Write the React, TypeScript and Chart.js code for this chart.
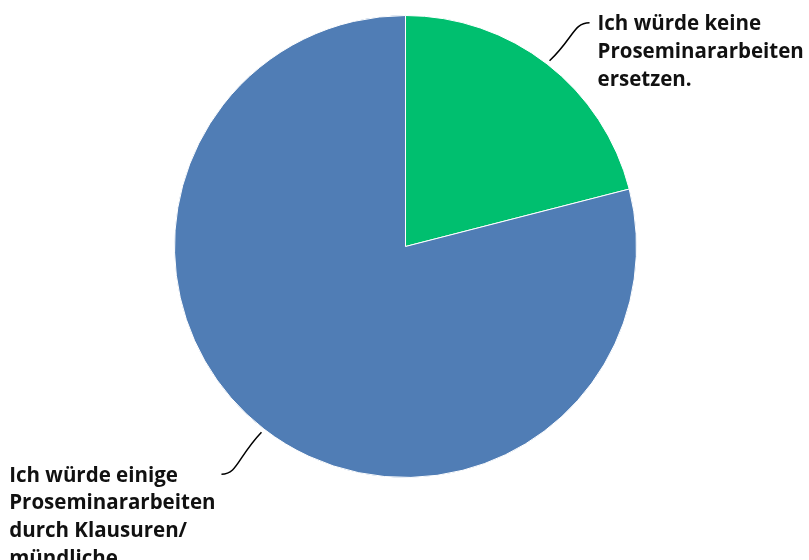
import React, { useEffect, useRef } from "react";
import { Chart, registerables } from "chart.js";

Chart.register(...registerables);

const categories: string[][] = [
  ["Ich würde keine", "Proseminararbeiten", "ersetzen."],
  ["Ich würde einige", "Proseminararbeiten", "durch Klausuren/", "mündliche", "Prüfungen ersetzen."],
];
const values: number[] = [21, 79];
const colors: string[] = ["#00BF6F", "#507DB5"];

const FONT = "bold 20.5px 'Open Sans'";
const LINE_H = 27.7;

const labelPlugin = {
  id: "leaderLabels",
  afterDraw(chart: any) {
    const ctx = chart.ctx;
    const meta = chart.getDatasetMeta(0);
    ctx.save();
    ctx.font = FONT;
    ctx.textBaseline = "alphabetic";
    ctx.fillStyle = "#111111";
    meta.data.forEach((arc: any, i: number) => {
      const { x, y, startAngle, endAngle, outerRadius } = arc.getProps(
        ["x", "y", "startAngle", "endAngle", "outerRadius"],
        true
      );
      const mid = (startAngle + endAngle) / 2;
      const r0 = outerRadius + 4;
      const sx = x + Math.cos(mid) * r0;
      const sy = y + Math.sin(mid) * r0;
      const right = Math.cos(mid) >= 0;
      const sign = right ? 1 : -1;
      const ey = sy + (Math.sin(mid) >= 0 ? 42 : -38);
      const ex = sx + sign * 40;
      ctx.beginPath();
      ctx.strokeStyle = "#000";
      ctx.lineWidth = 1.5;
      ctx.moveTo(sx, sy);
      ctx.bezierCurveTo(
        sx + sign * 24,
        sy + (ey - sy) * 0.6,
        ex - sign * 16,
        ey,
        ex,
        ey
      );
      ctx.stroke();
      const lines = categories[i];
      const w = Math.max(...lines.slice(0, 3).map((l) => ctx.measureText(l).width));
      ctx.textAlign = "left";
      const tx = right ? ex + 8 : ex - 6 - w;
      lines.forEach((l, k) => {
        ctx.fillText(l, tx, ey + 7.5 + k * LINE_H);
      });
    });
    ctx.restore();
  },
};

export default function App() {
  const ref = useRef<HTMLCanvasElement | null>(null);
  useEffect(() => {
    if (!ref.current) return;
    const chart = new Chart(ref.current, {
      type: "pie",
      data: {
        labels: categories.map((c) => c.join(" ")),
        datasets: [
          {
            data: values,
            backgroundColor: colors,
            borderColor: "#ffffff",
            borderWidth: 1,
          },
        ],
      },
      options: {
        responsive: false,
        animation: false,
        layout: { padding: { left: 174, right: 172, top: 15, bottom: 82 } },
        plugins: { legend: { display: false }, tooltip: { enabled: false } },
      },
      plugins: [labelPlugin],
    });
    return () => chart.destroy();
  }, []);
  return (
    <div style={{ position: "fixed", left: 0, top: 0, width: 809, height: 560, background: "#fff" }}>
      <canvas ref={ref} width={809} height={560} />
    </div>
  );
}
